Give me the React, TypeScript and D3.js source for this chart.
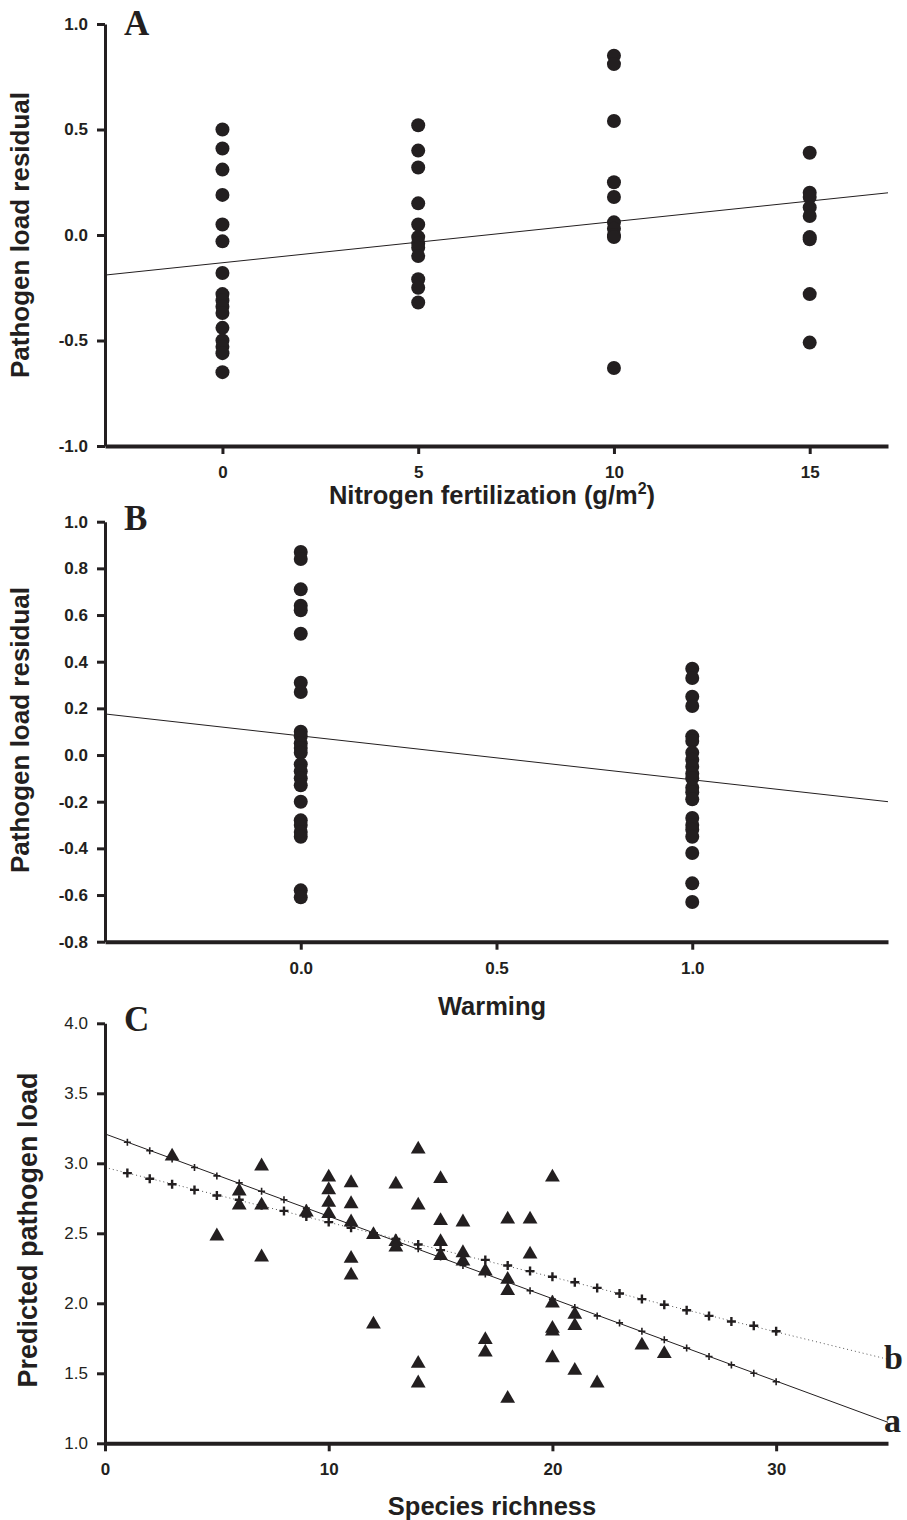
import React, { useRef, useEffect } from "react";
import * as d3 from "d3";

// Panel A: residuals per nitrogen level
const nitrogenLevels = [0, 5, 10, 15];
const nitrogenResiduals = [
  [0.5, 0.41, 0.31, 0.19, 0.05, -0.03, -0.18, -0.28, -0.31, -0.34, -0.37, -0.44, -0.5, -0.53, -0.56, -0.65],
  [0.52, 0.4, 0.32, 0.15, 0.05, -0.01, -0.04, -0.06, -0.1, -0.21, -0.25, -0.32],
  [0.85, 0.81, 0.54, 0.25, 0.18, 0.06, 0.03, 0.0, -0.01, -0.63],
  [0.39, 0.2, 0.18, 0.13, 0.09, -0.01, -0.02, -0.28, -0.51],
];
const nitrogenFit = [[-3, -0.19], [17, 0.2]];
const nitrogenTicks = [0, 5, 10, 15];
const nitrogenYTicks = [-1, -0.5, 0, 0.5, 1];

// Panel B: residuals per warming level
const warmingLevels = [0, 1];
const warmingResiduals = [
  [0.87, 0.84, 0.71, 0.64, 0.62, 0.52, 0.31, 0.27, 0.1, 0.08, 0.05, 0.03, 0.01, -0.04, -0.07, -0.1, -0.13, -0.2, -0.28, -0.3, -0.33, -0.35, -0.58, -0.61],
  [0.37, 0.33, 0.25, 0.21, 0.08, 0.06, 0.01, -0.02, -0.05, -0.08, -0.1, -0.14, -0.16, -0.19, -0.27, -0.3, -0.32, -0.35, -0.42, -0.55, -0.63],
];
const warmingFit = [[-0.5, 0.176], [1.5, -0.2]];
const warmingTicks = [0, 0.5, 1];
const warmingYTicks = [-0.8, -0.6, -0.4, -0.2, 0, 0.2, 0.4, 0.6, 0.8, 1.0];

// Panel C: observed loads and two fitted lines
const richness = [3, 5, 6, 6, 7, 7, 7, 9, 10, 10, 10, 10, 11, 11, 11, 11, 11, 12, 12, 13, 13, 13, 14, 14, 14, 14, 15, 15, 15, 15, 16, 16, 16, 17, 17, 17, 18, 18, 18, 18, 19, 19, 20, 20, 20, 20, 20, 21, 21, 21, 22, 24, 25];
const observedLoad = [3.05, 2.48, 2.8, 2.7, 2.98, 2.7, 2.33, 2.65, 2.9, 2.81, 2.72, 2.64, 2.86, 2.71, 2.58, 2.32, 2.2, 2.49, 1.85, 2.85, 2.44, 2.4, 3.1, 2.7, 1.57, 1.43, 2.89, 2.59, 2.44, 2.34, 2.58, 2.36, 2.3, 2.23, 1.74, 1.65, 2.6, 2.17, 2.09, 1.32, 2.6, 2.35, 2.9, 2.0, 1.82, 1.8, 1.61, 1.92, 1.84, 1.52, 1.43, 1.7, 1.64];
const predictedRichness = [1, 2, 3, 4, 5, 6, 7, 8, 9, 10, 11, 12, 13, 14, 15, 16, 17, 18, 19, 20, 21, 22, 23, 24, 25, 26, 27, 28, 29, 30];
const predictedA = [3.15, 3.09, 3.03, 2.97, 2.91, 2.86, 2.8, 2.74, 2.68, 2.62, 2.56, 2.5, 2.44, 2.39, 2.33, 2.27, 2.21, 2.15, 2.09, 2.03, 1.97, 1.91, 1.86, 1.8, 1.74, 1.68, 1.62, 1.56, 1.5, 1.44];
const predictedB = [2.93, 2.89, 2.85, 2.81, 2.77, 2.74, 2.7, 2.66, 2.62, 2.58, 2.54, 2.5, 2.46, 2.42, 2.38, 2.35, 2.31, 2.27, 2.23, 2.19, 2.15, 2.11, 2.07, 2.03, 1.99, 1.95, 1.91, 1.87, 1.84, 1.8];
const fitA = [[0, 3.21], [35, 1.15]];
const fitB = [[0, 2.97], [35, 1.6]];
const richnessTicks = [0, 10, 20, 30];
const loadTicks = [1, 1.5, 2, 2.5, 3, 3.5, 4];

const INK = "#231f20";
const SANS = "'Liberation Sans', Arial, sans-serif";
const SERIF = "'Liberation Serif', 'Times New Roman', serif";

// plain hyphen for negatives, like the original figure
const fmt1 = (d) => d3.format(".1f")(d).replace("\u2212", "-");

export default function App() {
  const ref = useRef(null);

  useEffect(() => {
    const svg = d3.select(ref.current);
    svg.selectAll("*").remove();

    // shared axis drawing
    function axes(x, y, xTicks, yTicks, xFmt, yBold) {
      const gx = svg
        .append("g")
        .attr("transform", `translate(0, ${y.range()[0]})`)
        .call(d3.axisBottom(x).tickValues(xTicks).tickFormat(xFmt).tickSize(8).tickSizeOuter(0).tickPadding(12));
      gx.select(".domain").attr("stroke", INK).attr("stroke-width", 4);
      gx.selectAll(".tick line").attr("stroke", INK).attr("stroke-width", 3);
      gx.selectAll("text")
        .attr("fill", INK)
        .style("font-family", SANS)
        .style("font-weight", "bold")
        .style("font-size", "17px");

      const gy = svg
        .append("g")
        .attr("transform", `translate(${x.range()[0]}, 0)`)
        .call(d3.axisLeft(y).tickValues(yTicks).tickFormat(fmt1).tickSize(8).tickSizeOuter(0).tickPadding(9));
      gy.select(".domain").attr("stroke", INK).attr("stroke-width", 3);
      gy.selectAll(".tick line").attr("stroke", INK).attr("stroke-width", 3);
      gy.selectAll("text")
        .attr("fill", INK)
        .style("font-family", SANS)
        .style("font-weight", yBold ? "bold" : "normal")
        .style("font-size", "17px");
    }

    function titles(xLabel, xY, yLabel, yX, yY, ySize, letter, letterY) {
      const t = svg
        .append("text")
        .attr("x", 492)
        .attr("y", xY)
        .attr("text-anchor", "middle")
        .attr("fill", INK)
        .style("font-family", SANS)
        .style("font-weight", "bold")
        .style("font-size", "25.5px");
      if (xLabel === "N") {
        t.append("tspan").text("Nitrogen fertilization (g/m");
        t.append("tspan").attr("dy", -10).style("font-size", "16px").text("2");
        t.append("tspan").attr("dy", 10).text(")");
      } else t.text(xLabel);

      svg
        .append("text")
        .attr("transform", `translate(${yX}, ${yY}) rotate(-90)`)
        .attr("text-anchor", "middle")
        .attr("fill", INK)
        .style("font-family", SANS)
        .style("font-weight", "bold")
        .style("font-size", ySize + "px")
        .text(yLabel);

      svg
        .append("text")
        .attr("x", 124)
        .attr("y", letterY)
        .attr("fill", INK)
        .style("font-family", SERIF)
        .style("font-weight", "bold")
        .style("font-size", "35px")
        .text(letter);
    }

    const lineGen = (x, y) => d3.line().x((d) => x(d[0])).y((d) => y(d[1]));

    // ---- Panel A
    const xA = d3.scaleLinear().domain([-3, 17]).range([105, 888]);
    const yA = d3.scaleLinear().domain([-1, 1]).range([446, 24]);
    svg.append("path").attr("d", lineGen(xA, yA)(nitrogenFit)).attr("stroke", INK).attr("stroke-width", 1).attr("fill", "none");
    nitrogenLevels.forEach((lvl, i) => {
      svg
        .append("g")
        .selectAll("circle")
        .data(nitrogenResiduals[i])
        .enter()
        .append("circle")
        .attr("cx", xA(lvl))
        .attr("cy", (d) => yA(d))
        .attr("r", 7)
        .attr("fill", INK);
    });
    axes(xA, yA, nitrogenTicks, nitrogenYTicks, d3.format("d"), true);
    titles("N", 504, "Pathogen load residual", 29, 235, 26, "A", 35);

    // ---- Panel B
    const xB = d3.scaleLinear().domain([-0.5, 1.5]).range([105, 888]);
    const yB = d3.scaleLinear().domain([-0.8, 1.0]).range([941.7, 521.7]);
    svg.append("path").attr("d", lineGen(xB, yB)(warmingFit)).attr("stroke", INK).attr("stroke-width", 1).attr("fill", "none");
    warmingLevels.forEach((lvl, i) => {
      svg
        .append("g")
        .selectAll("circle")
        .data(warmingResiduals[i])
        .enter()
        .append("circle")
        .attr("cx", xB(lvl))
        .attr("cy", (d) => yB(d))
        .attr("r", 7)
        .attr("fill", INK);
    });
    axes(xB, yB, warmingTicks, warmingYTicks, fmt1, true);
    titles("Warming", 1015, "Pathogen load residual", 29, 730, 26, "B", 530);

    // ---- Panel C
    const xC = d3.scaleLinear().domain([0, 35]).range([105, 888]);
    const yC = d3.scaleLinear().domain([1, 4]).range([1443.3, 1023.3]);
    svg.append("path").attr("d", lineGen(xC, yC)(fitA)).attr("stroke", INK).attr("stroke-width", 1).attr("fill", "none");
    svg
      .append("path")
      .attr("d", lineGen(xC, yC)(fitB))
      .attr("stroke", "#555")
      .attr("stroke-width", 1)
      .attr("stroke-dasharray", "1,3")
      .attr("fill", "none");

    const plus = (w) => `M${-w},0H${w}M0,${-w}V${w}`;
    svg
      .append("g")
      .selectAll("path")
      .data(predictedA)
      .enter()
      .append("path")
      .attr("transform", (d, i) => `translate(${xC(predictedRichness[i])}, ${yC(d)})`)
      .attr("d", plus(3.5))
      .attr("stroke", INK)
      .attr("stroke-width", 1.6);
    svg
      .append("g")
      .selectAll("path")
      .data(predictedB)
      .enter()
      .append("path")
      .attr("transform", (d, i) => `translate(${xC(predictedRichness[i])}, ${yC(d)})`)
      .attr("d", plus(4.5))
      .attr("stroke", INK)
      .attr("stroke-width", 2.4);

    const tri = d3.symbol().type(d3.symbolTriangle).size(95);
    svg
      .append("g")
      .selectAll("path")
      .data(observedLoad)
      .enter()
      .append("path")
      .attr("transform", (d, i) => `translate(${xC(richness[i])}, ${yC(d)})`)
      .attr("d", tri())
      .attr("fill", INK);

    axes(xC, yC, richnessTicks, loadTicks, d3.format("d"), false);
    titles("Species richness", 1515, "Predicted pathogen load", 37, 1230, 27, "C", 1031);

    [["a", fitA[1]], ["b", fitB[1]]].forEach(([lab, pt]) => {
      svg
        .append("text")
        .attr("x", 884)
        .attr("y", yC(pt[1]) + 10)
        .attr("fill", INK)
        .style("font-family", SERIF)
        .style("font-weight", "bold")
        .style("font-size", "34px")
        .text(lab);
    });
  }, []);

  return (
    <svg
      ref={ref}
      width={907}
      height={1520}
      style={{ position: "absolute", left: 0, top: 0, background: "#fff" }}
    />
  );
}
